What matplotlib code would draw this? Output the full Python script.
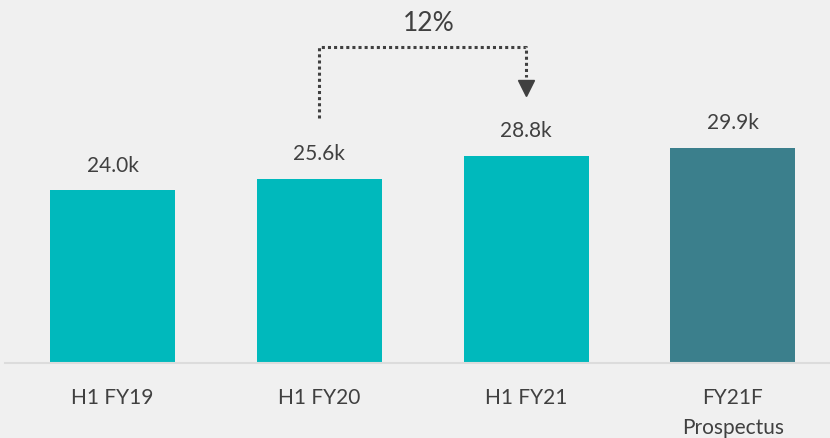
import matplotlib.pyplot as plt

categories = ["H1 FY19", "H1 FY20", "H1 FY21", "FY21F\nProspectus"]
values = [24.0, 25.6, 28.8, 29.9]
value_labels = ["24.0k", "25.6k", "28.8k", "29.9k"]
growth_label = "12%"

BG = "#f0f0f0"
TEAL = "#00b9bc"
DARK_TEAL = "#3b7f8c"
TEXT = "#404040"

plt.rcParams["font.family"] = ["Lato", "DejaVu Sans"]

fig = plt.figure(figsize=(8.3, 4.38), dpi=100, facecolor=BG)
ax = fig.add_axes([5 / 830, 75 / 438, 825 / 830, 363 / 438])
ax.set_facecolor(BG)

colors = [TEAL, TEAL, TEAL, DARK_TEAL]
x = list(range(len(values)))
ax.bar(x, values, width=0.605, color=colors, zorder=2)

for xi, v, lab in zip(x, values, value_labels):
    ax.annotate(lab, (xi, v), xytext=(0, 10.5), textcoords="offset points",
                ha="center", va="bottom", fontsize=15, color=TEXT)

ax.set_xlim(-0.52, 3.47)
ax.set_ylim(0, 50.5)
ax.set_xticks(x)
ax.set_xticklabels(categories, fontsize=15, color=TEXT, linespacing=1.6)
ax.tick_params(axis="x", length=0, pad=18)
ax.set_yticks([])
for s in ["top", "right", "left"]:
    ax.spines[s].set_visible(False)
ax.spines["bottom"].set_color("#dcdcdc")
ax.spines["bottom"].set_linewidth(1.5)

# growth bracket from H1 FY20 to H1 FY21
y_start, y_top, y_end = 34.1, 43.9, 39.8
ax.plot([1, 1, 2, 2], [y_start, y_top, y_top, y_end], color=TEXT,
        linestyle=(0, (1, 1)), linewidth=2.2, dash_capstyle="butt",
        clip_on=False, zorder=3)
ax.plot([2], [38.2], marker="v", markersize=11, color=TEXT,
        linestyle="none", clip_on=False, zorder=3)
ax.text(1.53, 47.3, growth_label, ha="center", va="center",
        fontsize=19, color=TEXT)

fig.savefig("out.png", dpi=100, facecolor=BG)
